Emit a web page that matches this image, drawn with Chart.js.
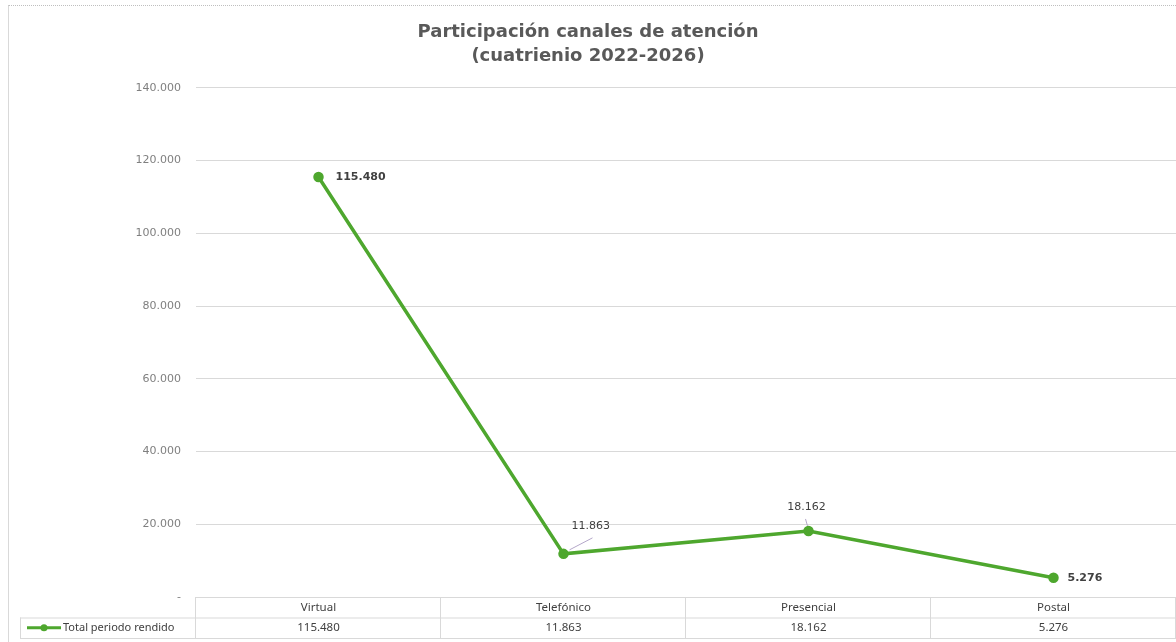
<!DOCTYPE html>
<html>
<head>
<meta charset="utf-8">
<script src="https://cdn.jsdelivr.net/npm/chart.js@4/dist/chart.umd.min.js"></script>
<style>
  html, body { margin: 0; padding: 0; background: #fff; overflow: hidden; }
  #wrap { position: relative; width: 1176px; height: 642px; }
  #frame { position: absolute; left: 8px; top: 5px; right: 0; bottom: 0;
           border-left: 1px solid #d9d9d9; border-top: 1px dotted #bfbfbf; pointer-events: none; }
  canvas { position: absolute; left: 0; top: 0; }
</style>
</head>
<body>
<div id="wrap">
  <canvas id="line-chart" width="1176" height="642"></canvas>
  <div id="frame"></div>
</div>
<script>
// data
var canales = ["Virtual", "Telefónico", "Presencial", "Postal"];
var totales = [115480, 11863, 18162, 5276];
var serieNombre = "Total periodo rendido";
var yTicks = [0, 20000, 40000, 60000, 80000, 100000, 120000, 140000];

var verde = "#4ea72e";
var gris = "#d9d9d9";
var txt = "#404040";

function miles(v) {
  if (v === 0) return "-";
  return v.toString().replace(/\B(?=(\d{3})+(?!\d))/g, ".");
}

// label placement per point: [dx, dy, align, bold, leader]
var etiquetas = [
  [17, 0, "left", true, false],
  [8, -28, "left", false, true],
  [-2, -24, "center", false, true],
  [14, 0, "left", true, false]
];

var valueLabels = {
  id: "valueLabels",
  afterDatasetsDraw: function (chart) {
    var ctx = chart.ctx;
    var pts = chart.getDatasetMeta(0).data;
    ctx.save();
    ctx.fillStyle = txt;
    ctx.textBaseline = "middle";
    pts.forEach(function (p, i) {
      var e = etiquetas[i];
      if (e[4]) {
        ctx.strokeStyle = "#b4a7c9";
        ctx.lineWidth = 1;
        ctx.beginPath();
        if (i === 1) { ctx.moveTo(p.x + 6, p.y - 4); ctx.lineTo(p.x + 29, p.y - 16); }
        else { ctx.moveTo(p.x - 1, p.y - 5); ctx.lineTo(p.x - 3, p.y - 12); }
        ctx.stroke();
      }
      ctx.font = (e[3] ? "bold " : "") + "11px 'DejaVu Sans'";
      ctx.textAlign = e[2];
      ctx.fillText(miles(totales[i]), p.x + e[0], p.y + e[1]);
    });
    ctx.restore();
  }
};

var dataTable = {
  id: "dataTable",
  afterDraw: function (chart) {
    var ctx = chart.ctx;
    var a = chart.chartArea;
    var xs = chart.scales.x;
    var rowH = 20.5;
    var y0 = a.bottom, y1 = y0 + rowH, y2 = y1 + rowH;
    var colW = (a.right - a.left) / canales.length;
    var legL = 20;
    ctx.save();
    ctx.strokeStyle = gris;
    ctx.lineWidth = 1;
    ctx.beginPath();
    ctx.moveTo(a.left, y0 + 0.5); ctx.lineTo(a.right, y0 + 0.5);
    ctx.moveTo(legL, y1 + 0.5); ctx.lineTo(a.right, y1 + 0.5);
    ctx.moveTo(legL, y2 + 0.5); ctx.lineTo(a.right, y2 + 0.5);
    ctx.moveTo(legL + 0.5, y1); ctx.lineTo(legL + 0.5, y2);
    for (var k = 0; k <= canales.length; k++) {
      var xx = Math.round(a.left + k * colW) - 0.5;
      ctx.moveTo(xx, y0); ctx.lineTo(xx, y2);
    }
    ctx.stroke();

    ctx.fillStyle = txt;
    ctx.font = "11.5px 'Noto Sans'";
    ctx.textAlign = "center";
    ctx.textBaseline = "middle";
    canales.forEach(function (c, i) {
      var cx = xs.getPixelForValue(i);
      ctx.fillText(c, cx, y0 + rowH / 2);
      ctx.fillText(miles(totales[i]), cx, y1 + rowH / 2);
    });

    // legend key
    var ly = y1 + rowH / 2;
    ctx.strokeStyle = verde;
    ctx.lineWidth = 3;
    ctx.beginPath(); ctx.moveTo(27, ly); ctx.lineTo(61, ly); ctx.stroke();
    ctx.fillStyle = verde;
    ctx.beginPath(); ctx.arc(44, ly, 3.5, 0, Math.PI * 2); ctx.fill();
    ctx.fillStyle = txt;
    ctx.font = "11px 'Noto Sans'";
    ctx.textAlign = "left";
    ctx.fillText(serieNombre, 63, ly);
    ctx.restore();
  }
};

new Chart(document.getElementById("line-chart"), {
  type: "line",
  data: {
    labels: canales,
    datasets: [{
      label: serieNombre,
      data: totales,
      borderColor: verde,
      backgroundColor: verde,
      borderWidth: 3.5,
      pointRadius: 3.5,
      pointHoverRadius: 3.5,
      tension: 0
    }]
  },
  options: {
    responsive: false,
    animation: false,
    layout: { autoPadding: false, padding: { left: 0, right: 0, top: 0, bottom: 45 } },
    plugins: {
      legend: { display: false },
      tooltip: { enabled: false },
      title: {
        display: true,
        text: ["Participación canales de atención", "(cuatrienio 2022-2026)"],
        color: "#595959",
        font: { family: "'DejaVu Sans'", size: 18, weight: "bold", lineHeight: 1.3 },
        padding: { top: 21, bottom: 20 }
      }
    },
    scales: {
      x: {
        type: "category",
        offset: true,
        display: false
      },
      y: {
        min: 0,
        max: 140000,
        afterBuildTicks: function (scale) {
          scale.ticks = yTicks.map(function (v) { return { value: v }; });
        },
        afterFit: function (scale) { scale.width = 196; },
        border: { display: false },
        grid: { color: gris, drawTicks: false },
        ticks: {
          padding: 15,
          color: "#7f7f7f",
          font: { family: "'DejaVu Sans'", size: 11 },
          callback: function (v) { return miles(v); }
        }
      }
    }
  },
  plugins: [valueLabels, dataTable]
});
</script>
</body>
</html>
